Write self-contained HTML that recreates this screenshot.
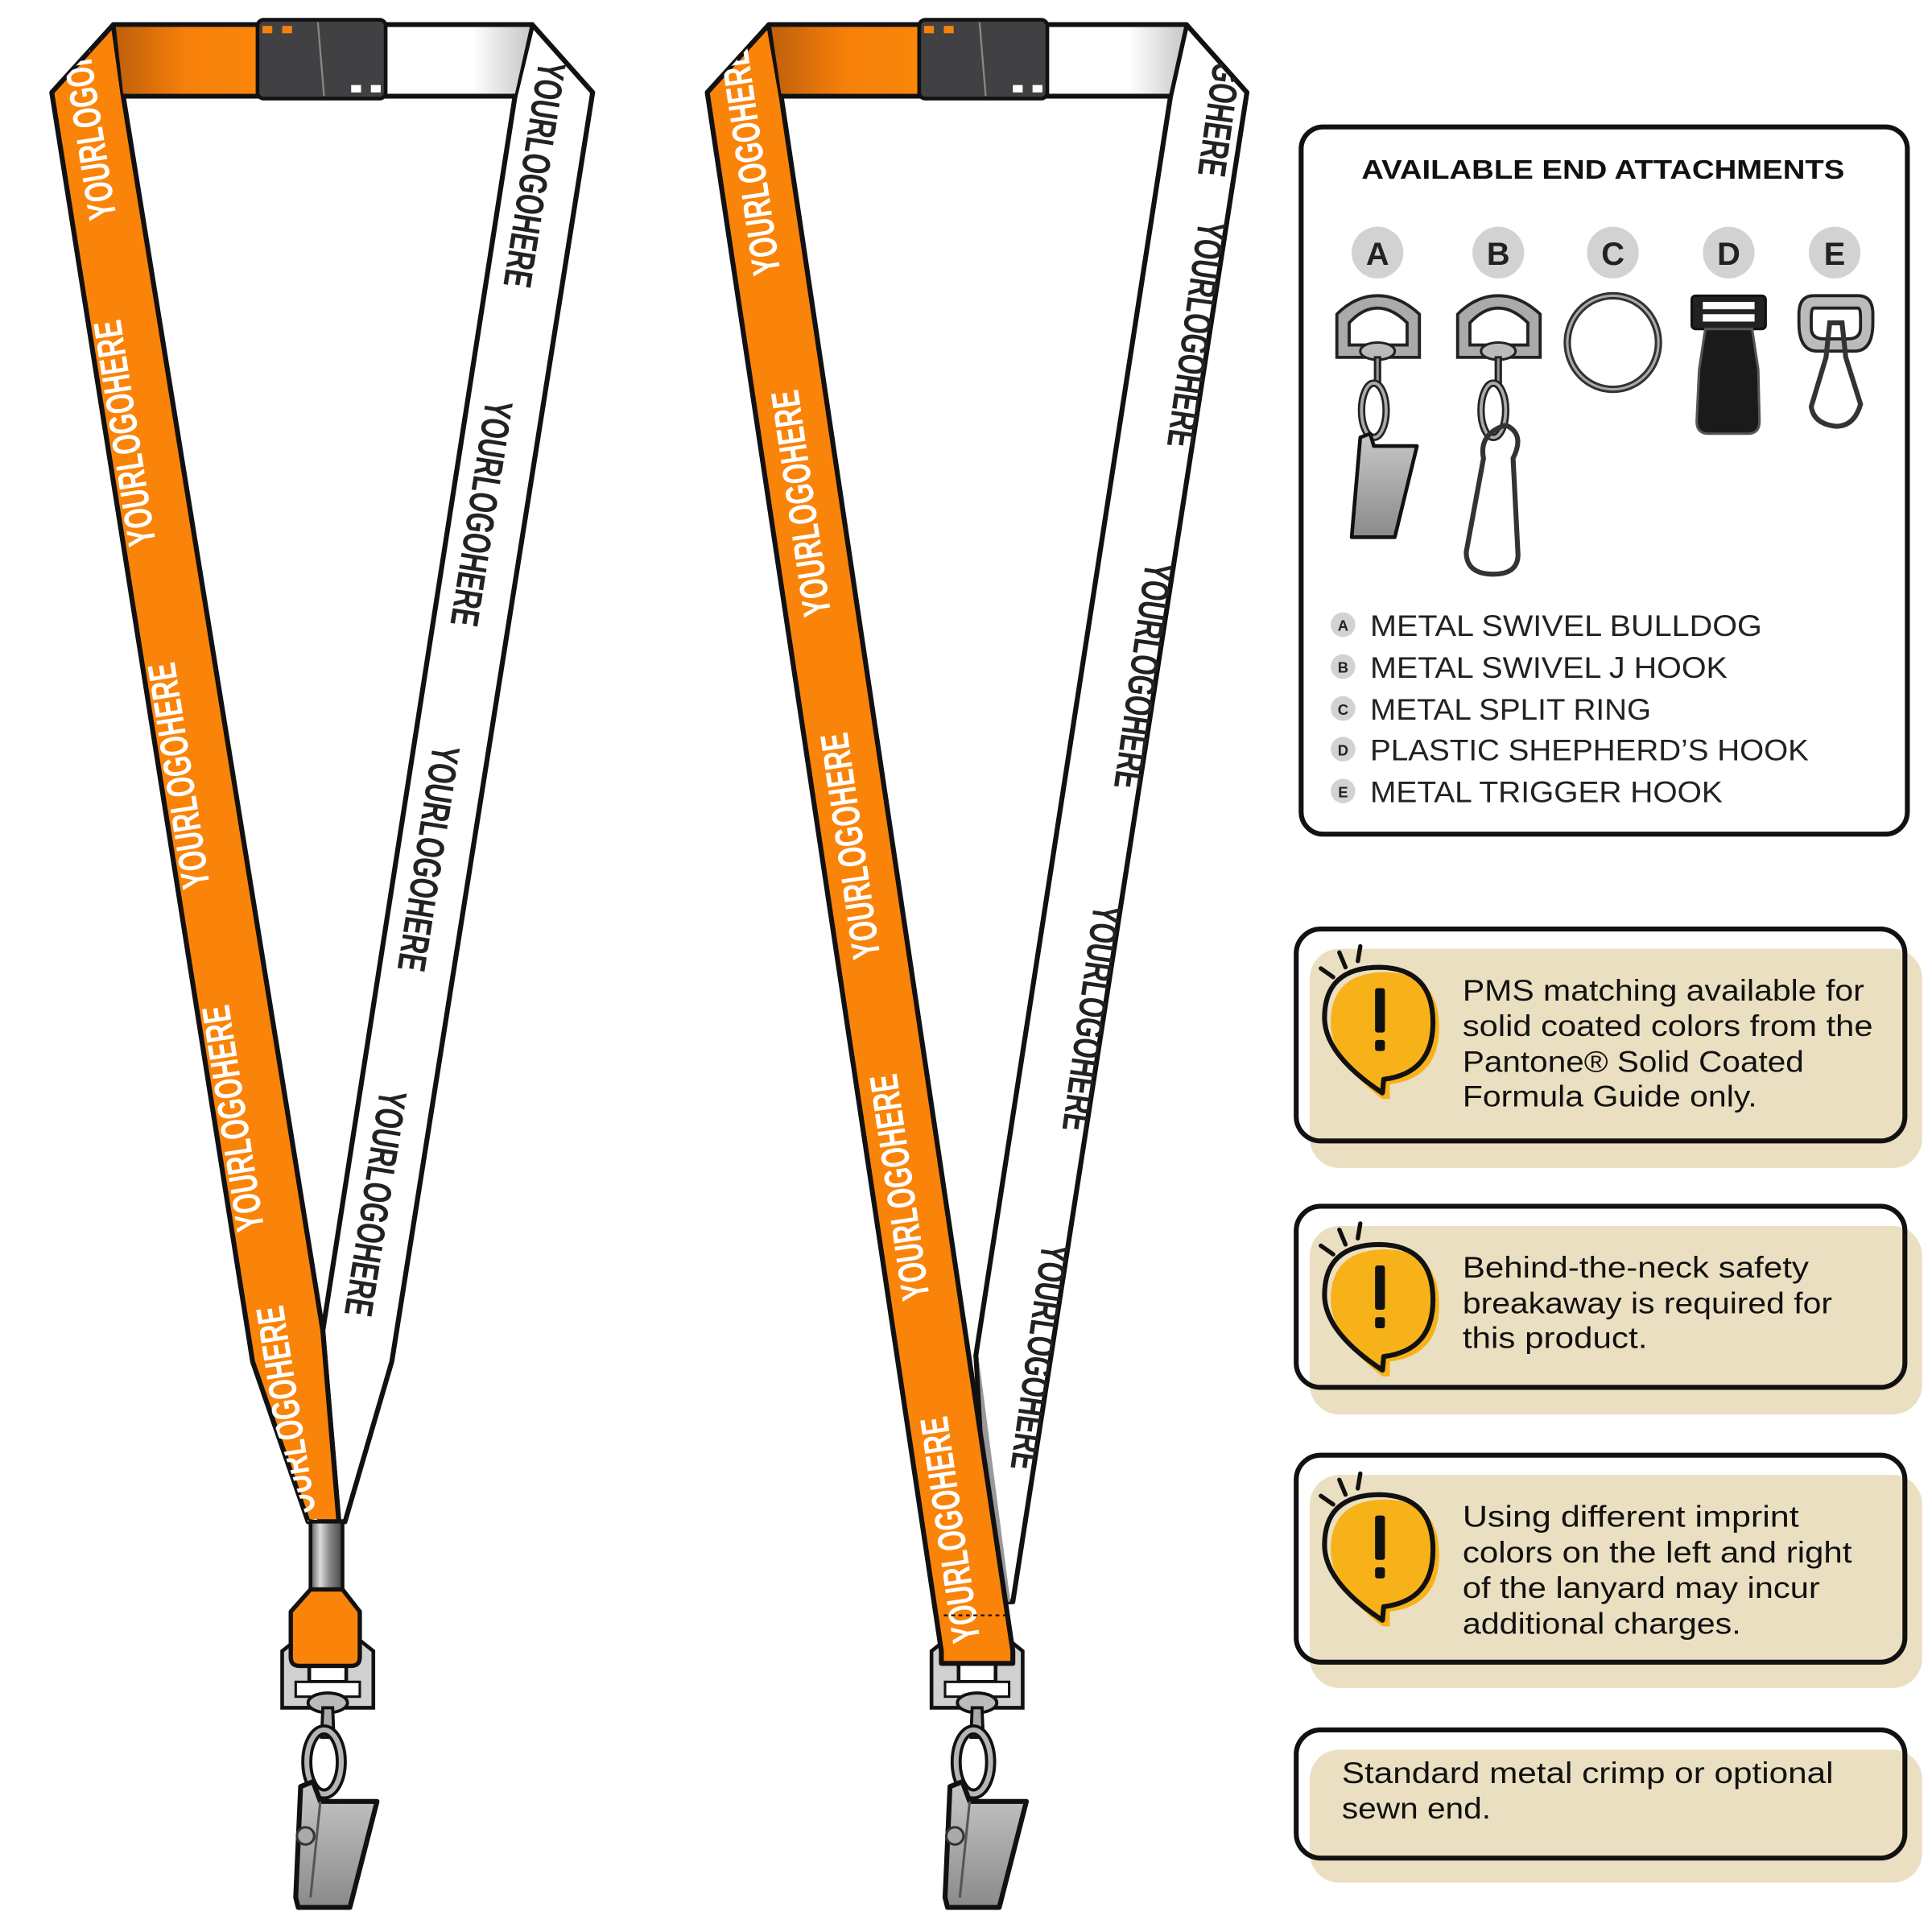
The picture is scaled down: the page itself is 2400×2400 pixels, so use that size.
<!DOCTYPE html>
<html><head><meta charset="utf-8"><style>
html,body{margin:0;padding:0;background:#fff}
svg{display:block}
.t{font-family:"Liberation Sans Narrow","Liberation Sans",sans-serif;font-weight:bold;font-size:32px}
.m{font-family:"Liberation Sans",sans-serif}
</style></head><body>
<svg width="2400" height="2400" viewBox="0 0 1568 1568" xmlns="http://www.w3.org/2000/svg">
<defs>
<linearGradient id="og" x1="0" x2="1"><stop offset="0" stop-color="#c0600a"/><stop offset="0.5" stop-color="#f7800a"/><stop offset="1" stop-color="#fa860a"/></linearGradient>
<linearGradient id="wg" x1="0" x2="1"><stop offset="0" stop-color="#fff"/><stop offset="0.6" stop-color="#fff"/><stop offset="1" stop-color="#c8c8c8"/></linearGradient>
<linearGradient id="mg" x1="0" x2="1"><stop offset="0" stop-color="#555"/><stop offset="0.3" stop-color="#ddd"/><stop offset="0.6" stop-color="#888"/><stop offset="1" stop-color="#444"/></linearGradient>
<linearGradient id="cg" x1="0" y1="0" x2="0" y2="1"><stop offset="0" stop-color="#c8c8c8"/><stop offset="1" stop-color="#8a8a8a"/></linearGradient>
<clipPath id="c1l"><polygon points="42,75 92,20 100,78 262,1080 275,1235 250,1235 205,1105"/></clipPath>
<clipPath id="c1r"><polygon points="481,75 432,20 418,78 262,1080 275,1235 280,1235 318,1105"/></clipPath>
<clipPath id="c2l"><polygon points="574,75 624,20 634,78 822,1340 764,1340"/></clipPath>
<clipPath id="c2r"><polygon points="1012,75 963,20 950,78 792,1100 805,1300 822,1300"/></clipPath>
<g id="clip">
 <path d="M-37,-30 L-27,-38 L-15,-38 L-15,-5 L15,-5 L15,-38 L27,-38 L37,-30 L37,16 L-37,16 Z" fill="#d0d0d0" stroke="#111" stroke-width="3"/>
 <rect x="-26" y="-5" width="52" height="12" fill="#fff" stroke="#111" stroke-width="2"/>
 <ellipse cx="0" cy="12" rx="16" ry="8" fill="#bbb" stroke="#111" stroke-width="2.5"/>
 <path d="M-4,16 L4,16 L5,40 L-5,40 Z" fill="#aaa" stroke="#111" stroke-width="2.5"/>
 <ellipse cx="-3" cy="60" rx="14" ry="26" fill="none" stroke="#111" stroke-width="9"/>
 <ellipse cx="-3" cy="60" rx="14" ry="26" fill="none" stroke="#b5b5b5" stroke-width="4"/>
 <path d="M-22,80 L-12,76 L-6,92 L40,92 L18,178 L-24,178 L-26,170 Z" fill="url(#cg)" stroke="#111" stroke-width="4" stroke-linejoin="round"/>
 <path d="M-6,92 L-14,170" stroke="#555" stroke-width="2"/>
 <circle cx="-18" cy="120" r="7" fill="#aaa" stroke="#333" stroke-width="2"/>
</g>
</defs>
<rect width="1568" height="1568" fill="#fff"/>

<!-- LANYARD 1 -->
<polygon points="481,75 432,20 418,78 262,1080 275,1235 280,1235 318,1105" fill="#fff" stroke="#111" stroke-width="4" stroke-linejoin="round"/>
<polygon points="262,1080 275,1235 268,1235" fill="#999"/>
<polygon points="42,75 92,20 100,78 262,1080 275,1235 250,1235 205,1105" fill="#fa840a" stroke="#111" stroke-width="4" stroke-linejoin="round"/>
<g clip-path="url(#c1l)" fill="#fff" class="t">
 <text transform="translate(80,85) rotate(-99)" text-anchor="middle" textLength="185" lengthAdjust="spacingAndGlyphs">YOURLOGOHERE</text>
 <text transform="translate(112,350) rotate(-99)" text-anchor="middle" textLength="185" lengthAdjust="spacingAndGlyphs">YOURLOGOHERE</text>
 <text transform="translate(156,628) rotate(-99)" text-anchor="middle" textLength="185" lengthAdjust="spacingAndGlyphs">YOURLOGOHERE</text>
 <text transform="translate(200,906) rotate(-99)" text-anchor="middle" textLength="185" lengthAdjust="spacingAndGlyphs">YOURLOGOHERE</text>
 <text transform="translate(244,1150) rotate(-99)" text-anchor="middle" textLength="185" lengthAdjust="spacingAndGlyphs">YOURLOGOHERE</text>
</g>
<g clip-path="url(#c1r)" fill="#222" class="t">
 <text transform="translate(423,140) rotate(99)" text-anchor="middle" textLength="185" lengthAdjust="spacingAndGlyphs">YOURLOGOHERE</text>
 <text transform="translate(380,415) rotate(99)" text-anchor="middle" textLength="185" lengthAdjust="spacingAndGlyphs">YOURLOGOHERE</text>
 <text transform="translate(337,695) rotate(99)" text-anchor="middle" textLength="185" lengthAdjust="spacingAndGlyphs">YOURLOGOHERE</text>
 <text transform="translate(294,975) rotate(99)" text-anchor="middle" textLength="185" lengthAdjust="spacingAndGlyphs">YOURLOGOHERE</text>
</g>
<polygon points="92,20 432,20 418,78 100,78" fill="#fff" stroke="#111" stroke-width="4" stroke-linejoin="round"/>
<polygon points="94,22 210,22 210,76 100,76" fill="url(#og)"/>
<polygon points="312,22 430,22 418,76 312,76" fill="url(#wg)"/>
<rect x="209" y="16" width="104" height="64" rx="5" fill="#414042" stroke="#111" stroke-width="3"/>
<line x1="258" y1="18" x2="263" y2="78" stroke="#888" stroke-width="1.5"/>
<rect x="213" y="21" width="8" height="6" fill="#f7800a"/><rect x="229" y="21" width="8" height="6" fill="#f7800a"/>
<rect x="285" y="69" width="8" height="6" fill="#fff"/><rect x="301" y="69" width="8" height="6" fill="#fff"/>
<rect x="252" y="1235" width="26" height="56" fill="url(#mg)" stroke="#111" stroke-width="3"/>
<use href="#clip" transform="translate(266,1370)"/>
<path d="M252,1290 L278,1290 L292,1308 L292,1345 Q292,1352 285,1352 L243,1352 Q236,1352 236,1345 L236,1308 Z" fill="#fa840a" stroke="#111" stroke-width="3.5" stroke-linejoin="round"/>

<!-- LANYARD 2 -->
<polygon points="1012,75 963,20 950,78 792,1100 805,1300 822,1300" fill="#fff" stroke="#111" stroke-width="4" stroke-linejoin="round"/>
<polygon points="794,1100 820,1300 805,1300" fill="#999"/>
<g clip-path="url(#c2r)" fill="#222" class="t">
 <text transform="translate(985,50) rotate(98)" text-anchor="middle" textLength="185" lengthAdjust="spacingAndGlyphs">YOURLOGOHERE</text>
 <text transform="translate(960,270) rotate(98)" text-anchor="middle" textLength="185" lengthAdjust="spacingAndGlyphs">YOURLOGOHERE</text>
 <text transform="translate(917,547) rotate(98)" text-anchor="middle" textLength="185" lengthAdjust="spacingAndGlyphs">YOURLOGOHERE</text>
 <text transform="translate(875,825) rotate(98)" text-anchor="middle" textLength="185" lengthAdjust="spacingAndGlyphs">YOURLOGOHERE</text>
 <text transform="translate(833,1100) rotate(98)" text-anchor="middle" textLength="185" lengthAdjust="spacingAndGlyphs">YOURLOGOHERE</text>
</g>
<use href="#clip" transform="translate(793,1370)"/>
<polygon points="574,75 624,20 634,78 822,1340 822,1350 764,1350 764,1340" fill="#fa840a" stroke="#111" stroke-width="4" stroke-linejoin="round"/>
<g clip-path="url(#c2l)" fill="#fff" class="t">
 <text transform="translate(620,130) rotate(-98.4)" text-anchor="middle" textLength="185" lengthAdjust="spacingAndGlyphs">YOURLOGOHERE</text>
 <text transform="translate(661,407) rotate(-98.4)" text-anchor="middle" textLength="185" lengthAdjust="spacingAndGlyphs">YOURLOGOHERE</text>
 <text transform="translate(701,685) rotate(-98.4)" text-anchor="middle" textLength="185" lengthAdjust="spacingAndGlyphs">YOURLOGOHERE</text>
 <text transform="translate(741,962) rotate(-98.4)" text-anchor="middle" textLength="185" lengthAdjust="spacingAndGlyphs">YOURLOGOHERE</text>
 <text transform="translate(782,1240) rotate(-98.4)" text-anchor="middle" textLength="185" lengthAdjust="spacingAndGlyphs">YOURLOGOHERE</text>
</g>
<line x1="766" y1="1311" x2="820" y2="1311" stroke="#111" stroke-width="1.5" stroke-dasharray="3,3"/>
<polygon points="624,20 963,20 950,78 634,78" fill="#fff" stroke="#111" stroke-width="4" stroke-linejoin="round"/>
<polygon points="626,22 747,22 747,76 634,76" fill="url(#og)"/>
<polygon points="850,22 961,22 949,76 850,76" fill="url(#wg)"/>
<rect x="746" y="16" width="104" height="64" rx="5" fill="#414042" stroke="#111" stroke-width="3"/>
<line x1="795" y1="18" x2="800" y2="78" stroke="#888" stroke-width="1.5"/>
<rect x="750" y="21" width="8" height="6" fill="#f7800a"/><rect x="766" y="21" width="8" height="6" fill="#f7800a"/>
<rect x="822" y="69" width="8" height="6" fill="#fff"/><rect x="838" y="69" width="8" height="6" fill="#fff"/>

<!-- ATTACHMENTS BOX -->
<rect x="1056" y="103" width="492" height="574" rx="18" fill="#fff" stroke="#111" stroke-width="4"/>
<text x="1301" y="145" text-anchor="middle" class="m" font-size="22" font-weight="bold" fill="#111" textLength="392" lengthAdjust="spacingAndGlyphs">AVAILABLE END ATTACHMENTS</text>
<g class="m" font-size="26" font-weight="bold" fill="#222" text-anchor="middle">
 <circle cx="1118" cy="205" r="21" fill="#d2d2d2"/><text x="1118" y="215">A</text>
 <circle cx="1216" cy="205" r="21" fill="#d2d2d2"/><text x="1216" y="215">B</text>
 <circle cx="1309" cy="205" r="21" fill="#d2d2d2"/><text x="1309" y="215">C</text>
 <circle cx="1403" cy="205" r="21" fill="#d2d2d2"/><text x="1403" y="215">D</text>
 <circle cx="1489" cy="205" r="21" fill="#d2d2d2"/><text x="1489" y="215">E</text>
</g>
<!-- A -->
<path d="M1085,290 L1085,255 Q1100,240 1118,240 Q1136,240 1152,255 L1152,290 Z M1095,280 L1142,280 L1142,262 Q1130,250 1118,250 Q1106,250 1095,262 Z" fill="#aaa" fill-rule="evenodd" stroke="#222" stroke-width="2.5"/>
<ellipse cx="1118" cy="285" rx="14" ry="7" fill="#bbb" stroke="#222" stroke-width="2"/>
<path d="M1116,290 L1120,290 L1120,312 L1116,312 Z" fill="#999" stroke="#222" stroke-width="2"/>
<ellipse cx="1115" cy="333" rx="10" ry="22" fill="none" stroke="#222" stroke-width="6"/><ellipse cx="1115" cy="333" rx="10" ry="22" fill="none" stroke="#aaa" stroke-width="2.5"/>
<path d="M1104,355 L1112,352 L1115,362 L1150,362 L1132,436 L1097,436 Z" fill="url(#cg)" stroke="#111" stroke-width="3" stroke-linejoin="round"/>
<!-- B -->
<path d="M1183,290 L1183,255 Q1198,240 1216,240 Q1234,240 1250,255 L1250,290 Z M1193,280 L1240,280 L1240,262 Q1228,250 1216,250 Q1204,250 1193,262 Z" fill="#aaa" fill-rule="evenodd" stroke="#222" stroke-width="2.5"/>
<ellipse cx="1216" cy="285" rx="14" ry="7" fill="#bbb" stroke="#222" stroke-width="2"/>
<path d="M1214,290 L1218,290 L1218,312 L1214,312 Z" fill="#999" stroke="#222" stroke-width="2"/>
<ellipse cx="1212" cy="333" rx="10" ry="22" fill="none" stroke="#222" stroke-width="6"/><ellipse cx="1212" cy="333" rx="10" ry="22" fill="none" stroke="#aaa" stroke-width="2.5"/>
<path d="M1222,345 Q1238,352 1228,372 L1232,450 Q1232,466 1212,466 Q1190,466 1190,448 L1204,372 Q1200,352 1222,345" fill="none" stroke="#333" stroke-width="4"/>
<!-- C -->
<ellipse cx="1309" cy="278" rx="37" ry="38" fill="none" stroke="#333" stroke-width="6"/><ellipse cx="1309" cy="278" rx="37" ry="38" fill="none" stroke="#aaa" stroke-width="2"/>
<!-- D -->
<rect x="1373" y="240" width="60" height="27" rx="3" fill="#222" stroke="#111" stroke-width="2"/>
<rect x="1382" y="245" width="42" height="6" fill="#fff"/><rect x="1382" y="255" width="42" height="6" fill="#fff"/>
<path d="M1384,267 L1422,267 L1427,300 L1428,342 Q1428,352 1418,352 L1387,352 Q1377,352 1377,342 L1379,300 Z" fill="#1a1a1a" stroke="#555" stroke-width="2"/>
<!-- E -->
<path d="M1472,240 L1508,240 Q1520,240 1520,255 L1520,262 Q1520,285 1505,285 L1475,285 Q1460,285 1460,262 L1460,255 Q1460,240 1472,240 Z M1472,250 L1508,250 Q1510,250 1510,258 L1510,266 Q1510,275 1500,275 L1480,275 Q1470,275 1470,266 L1470,258 Q1470,250 1472,250 Z" fill="#bbb" fill-rule="evenodd" stroke="#222" stroke-width="2.5"/>
<path d="M1485,262 L1495,262 L1498,290 L1510,328 Q1505,346 1490,346 Q1472,344 1470,330 L1482,290 Z" fill="none" stroke="#333" stroke-width="4"/>
<g class="m" font-size="24" fill="#222">
 <circle cx="1090" cy="507" r="10" fill="#d2d2d2"/><text x="1090" y="512" font-size="12" font-weight="bold" text-anchor="middle">A</text>
 <circle cx="1090" cy="541" r="10" fill="#d2d2d2"/><text x="1090" y="546" font-size="12" font-weight="bold" text-anchor="middle">B</text>
 <circle cx="1090" cy="575" r="10" fill="#d2d2d2"/><text x="1090" y="580" font-size="12" font-weight="bold" text-anchor="middle">C</text>
 <circle cx="1090" cy="608" r="10" fill="#d2d2d2"/><text x="1090" y="613" font-size="12" font-weight="bold" text-anchor="middle">D</text>
 <circle cx="1090" cy="642" r="10" fill="#d2d2d2"/><text x="1090" y="647" font-size="12" font-weight="bold" text-anchor="middle">E</text>
 <text x="1112" y="516" textLength="318" lengthAdjust="spacingAndGlyphs">METAL SWIVEL BULLDOG</text>
 <text x="1112" y="550" textLength="290" lengthAdjust="spacingAndGlyphs">METAL SWIVEL J HOOK</text>
 <text x="1112" y="584" textLength="228" lengthAdjust="spacingAndGlyphs">METAL SPLIT RING</text>
 <text x="1112" y="617" textLength="356" lengthAdjust="spacingAndGlyphs">PLASTIC SHEPHERD’S HOOK</text>
 <text x="1112" y="651" textLength="286" lengthAdjust="spacingAndGlyphs">METAL TRIGGER HOOK</text>
</g>

<!-- NOTE BOXES -->
<g fill="#ebdfc1">
 <rect x="1063" y="770" width="497" height="178" rx="24"/>
 <rect x="1063" y="995" width="497" height="153" rx="24"/>
 <rect x="1063" y="1197" width="497" height="173" rx="24"/>
 <rect x="1063" y="1420" width="497" height="108" rx="24"/>
</g>
<g fill="none" stroke="#111" stroke-width="4">
 <rect x="1052" y="754" width="494" height="172" rx="20"/>
 <rect x="1052" y="979" width="494" height="147" rx="20"/>
 <rect x="1052" y="1181" width="494" height="168" rx="20"/>
 <rect x="1052" y="1404" width="494" height="104" rx="20"/>
</g>
<g id="warn">
 <path d="M1125,789 Q1168,790 1168,834 Q1168,875 1128,880 L1128,892 L1122,892 Q1080,860 1080,830 Q1080,789 1125,789 Z" fill="#f8b219"/>
 <path d="M1120,785 Q1163,786 1163,830 Q1163,871 1123,876 L1122,887 Q1075,856 1075,826 Q1075,785 1120,785 Z" fill="none" stroke="#111" stroke-width="4" stroke-linejoin="round"/>
 <rect x="1116" y="802" width="8" height="36" rx="2" fill="#111"/>
 <rect x="1116" y="844" width="8" height="9" rx="2" fill="#111"/>
 <path d="M1072,786 L1082,793 M1087,773 L1092,785 M1104,768 L1102,780" stroke="#111" stroke-width="3.5" stroke-linecap="round"/>
</g>
<use href="#warn" transform="translate(0,225)"/>
<use href="#warn" transform="translate(0,428)"/>
<g class="m" font-size="24" fill="#111">
 <text x="1187" y="812" textLength="326" lengthAdjust="spacingAndGlyphs">PMS matching available for</text>
 <text x="1187" y="841" textLength="333" lengthAdjust="spacingAndGlyphs">solid coated colors from the</text>
 <text x="1187" y="870" textLength="277" lengthAdjust="spacingAndGlyphs">Pantone® Solid Coated</text>
 <text x="1187" y="898" textLength="239" lengthAdjust="spacingAndGlyphs">Formula Guide only.</text>
 <text x="1187" y="1037" textLength="281" lengthAdjust="spacingAndGlyphs">Behind-the-neck safety</text>
 <text x="1187" y="1066" textLength="300" lengthAdjust="spacingAndGlyphs">breakaway is required for</text>
 <text x="1187" y="1094" textLength="150" lengthAdjust="spacingAndGlyphs">this product.</text>
 <text x="1187" y="1239" textLength="273" lengthAdjust="spacingAndGlyphs">Using different imprint</text>
 <text x="1187" y="1268" textLength="316" lengthAdjust="spacingAndGlyphs">colors on the left and right</text>
 <text x="1187" y="1297" textLength="290" lengthAdjust="spacingAndGlyphs">of the lanyard may incur</text>
 <text x="1187" y="1326" textLength="226" lengthAdjust="spacingAndGlyphs">additional charges.</text>
 <text x="1089" y="1447" textLength="399" lengthAdjust="spacingAndGlyphs">Standard metal crimp or optional</text>
 <text x="1089" y="1476" textLength="121" lengthAdjust="spacingAndGlyphs">sewn end.</text>
</g>
</svg>
</body></html>
